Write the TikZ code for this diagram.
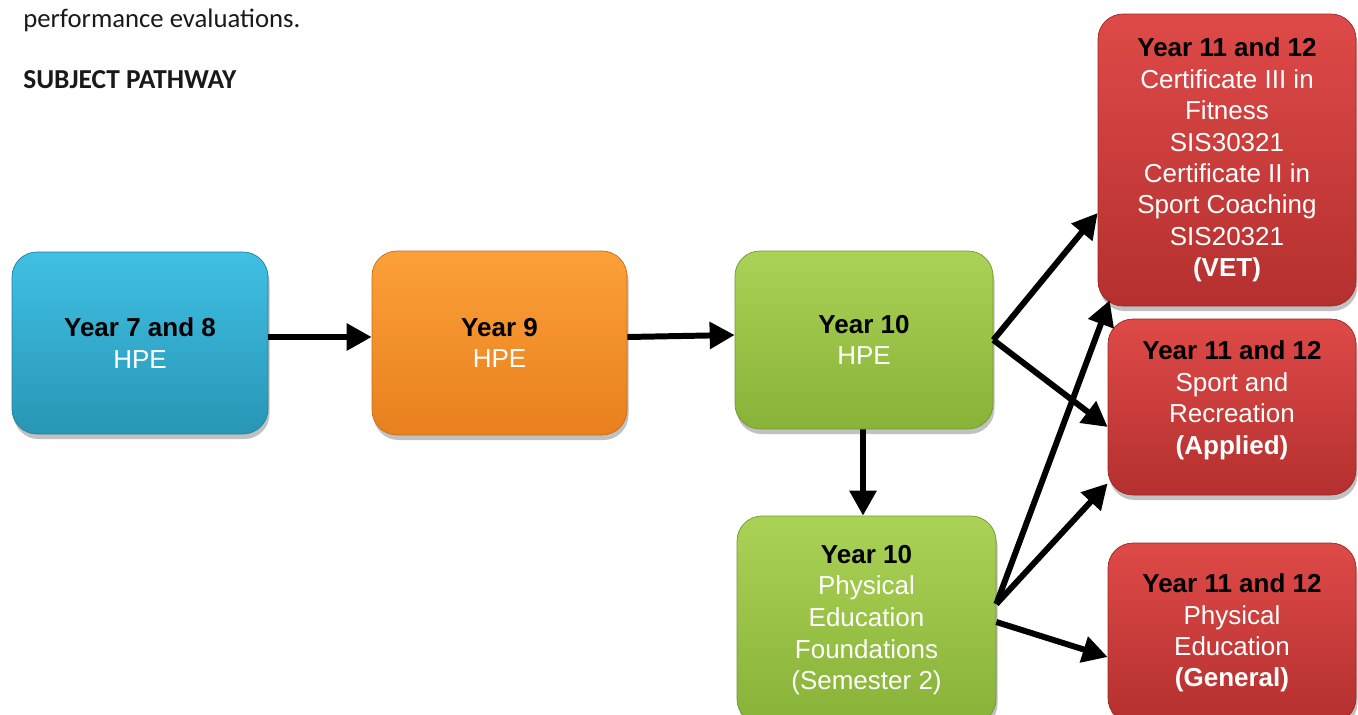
\documentclass[tikz,border=0pt]{standalone}
\usepackage{fontspec}
\setmainfont{Liberation Sans}
\newfontfamily\calfont{Carlito}
\usepackage{tikz}
\usetikzlibrary{arrows.meta, shadows}
\definecolor{pwBt}{RGB}{64,192,227}
\definecolor{pwBb}{RGB}{40,150,182}
\definecolor{pwOt}{RGB}{252,160,56}
\definecolor{pwOb}{RGB}{232,128,30}
\definecolor{pwGt}{RGB}{170,210,86}
\definecolor{pwGb}{RGB}{136,178,56}
\definecolor{pwRt}{RGB}{222,74,72}
\definecolor{pwRb}{RGB}{180,48,46}
\tikzset{pbox/.style={rounded corners=0.5cm, align=center, text=white, inner sep=0pt,
  line width=0.4pt, font=\fontsize{14.8}{17.9}\selectfont,
  drop shadow={shadow xshift=0.03cm, shadow yshift=-0.1cm, opacity=0.35, fill=black!70}},
  pw/.style={line width=3.4pt, -{Triangle[length=0.5cm, width=0.52cm]}}}
\newcommand{\yrhead}[1]{\textcolor{black}{\textbf{#1}}}

\begin{document}
\begin{tikzpicture}
\clip (0,0) rectangle (27.16,-14.28);
% ---- page text ----
\node[anchor=base west, inner sep=0pt, text=black!90, font=\calfont\fontsize{15.2}{18}\selectfont] (perf) at (0.46,-0.54) {performance evaluations.};
\node[anchor=base west, inner sep=0pt, text=black!90, font=\calfont\bfseries\fontsize{15.6}{18}\selectfont] (subj) at (0.46,-1.76) {SUBJECT PATHWAY};
% ---- year 7 to 10 ----
\node[pbox, top color=pwBt, bottom color=pwBb, draw=pwBb!85!black, minimum width=5.12cm, minimum height=3.64cm] (y78) at (2.80,-6.86) {\yrhead{Year 7 and 8}\\HPE};
\node[pbox, top color=pwOt, bottom color=pwOb, draw=pwOb!85!black, minimum width=5.10cm, minimum height=3.68cm] (y9) at (9.99,-6.86) {\yrhead{Year 9}\\HPE};
\node[pbox, top color=pwGt, bottom color=pwGb, draw=pwGb!85!black, minimum width=5.16cm, minimum height=3.56cm] (y10) at (17.28,-6.80) {\yrhead{Year 10}\\HPE};
\node[pbox, font=\fontsize{14.8}{18}\selectfont, top color=pwGt, bottom color=pwGb, draw=pwGb!85!black, minimum width=5.18cm, minimum height=4.16cm] (pef) at (17.33,-12.40) {\yrhead{Year 10}\\Physical\\Education\\Foundations\\(Semester 2)};
% ---- senior options ----
\node[pbox, top color=pwRt, bottom color=pwRb, draw=pwRb!85!black, minimum width=5.16cm, minimum height=5.84cm] (vet) at (24.54,-3.20) {\yrhead{Year 11 and 12}\\Certificate III in\\Fitness\\SIS30321\\Certificate II in\\Sport Coaching\\SIS20321\\\textbf{(VET)}};
\node[pbox, text depth=0.38cm, top color=pwRt, bottom color=pwRb, draw=pwRb!85!black, minimum width=4.96cm, minimum height=3.52cm] (app) at (24.64,-8.14) {\yrhead{Year 11 and 12}\\Sport and\\Recreation\\\textbf{(Applied)}};
\node[pbox, top color=pwRt, bottom color=pwRb, draw=pwRb!85!black, minimum width=4.96cm, minimum height=3.60cm] (gen) at (24.64,-12.66) {\yrhead{Year 11 and 12}\\Physical\\Education\\\textbf{(General)}};
% ---- arrows ----
\draw[pw] ([yshift=1.2mm]y78.east) -- ([yshift=1.2mm]y9.west);
\draw[pw] ([yshift=1.2mm]y9.east) -- ([yshift=1.0mm]y10.west);
\draw[pw] ([xshift=-0.2mm]y10.south) -- ([xshift=-0.7mm]pef.north);
\draw[pw] (y10.east) -- ([yshift=-1.06cm]vet.west);
\draw[pw] (y10.east) -- ([yshift=-0.40cm]app.west);
\draw[pw] ([yshift=3.2mm]pef.east) -- ([shift={(0.24,0.12)}]vet.south west);
\draw[pw] ([yshift=3.2mm]pef.east) -- ([yshift=0.24cm]app.south west);
\draw[pw] ([yshift=-0.4mm]pef.east) -- ([yshift=-0.48cm]gen.west);
\end{tikzpicture}
\end{document}
